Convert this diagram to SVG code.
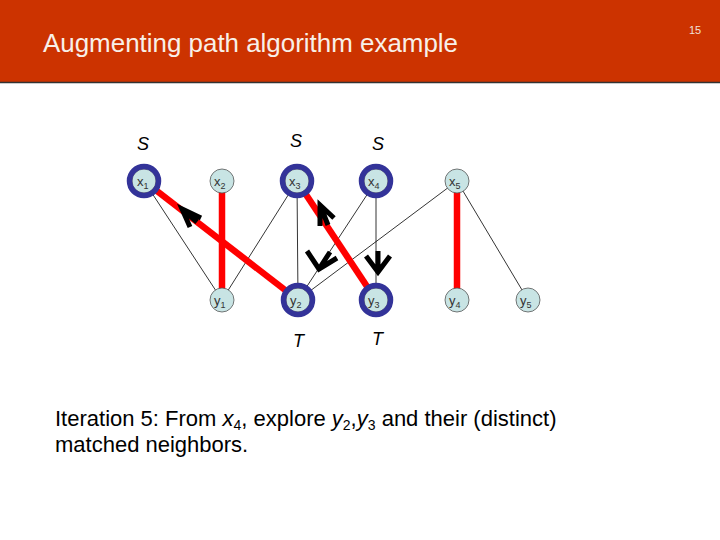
<svg xmlns="http://www.w3.org/2000/svg" width="720" height="540" viewBox="0 0 720 540">
<style>
.n{fill:#c8e4e4;stroke:#555;stroke-width:0.8}
.ring{fill:none;stroke:#333399;stroke-width:5.5}
.lb{font-family:"Liberation Sans",Arial,sans-serif;font-size:13px;fill:#333}
.sb{font-size:9px}
.thin{stroke:#000;stroke-width:0.8;fill:none}
.red{stroke:#ff0000;stroke-width:6.5;fill:none}
.arr{stroke:#000;stroke-width:5;fill:none;stroke-linecap:butt;stroke-linejoin:miter}
.st{font-family:"Liberation Sans",Arial,sans-serif;font-size:18px;font-style:italic;fill:#000}
.tx{font-family:"Liberation Sans",Arial,sans-serif;font-size:22px;fill:#000}
</style>
<rect width="720" height="540" fill="#fff"/>
<rect x="0" y="0" width="720" height="82" fill="#cc3300"/>
<line x1="0" y1="82.5" x2="720" y2="82.5" stroke="#333" stroke-width="1.5"/>
<text x="43" y="52" font-family="Liberation Sans,Arial,sans-serif" font-size="26" fill="#f8f0e8" textLength="415" lengthAdjust="spacingAndGlyphs">Augmenting path algorithm example</text>
<text x="689" y="34" font-family="Liberation Sans,Arial,sans-serif" font-size="11" fill="#f0e0d8">15</text>
<g id="connectors">
<line class="thin" x1="144" y1="181" x2="222" y2="300"/>
<line class="thin" x1="297" y1="181" x2="222" y2="300"/>
<line class="thin" x1="297" y1="181" x2="298" y2="300"/>
<line class="thin" x1="376" y1="181" x2="298" y2="300"/>
<line class="thin" x1="376" y1="181" x2="376" y2="300"/>
<line class="thin" x1="457" y1="181" x2="298" y2="300"/>
<line class="thin" x1="457" y1="181" x2="528" y2="300"/>
<line class="red" x1="222" y1="181" x2="222" y2="300"/>
<line class="red" x1="144" y1="181" x2="298" y2="300"/>
<line class="red" x1="297" y1="181" x2="376" y2="300"/>
<line class="red" x1="457" y1="181" x2="457" y2="300"/>
<path class="arr" d="M201,218 L182,209 L190,227 M182,209 L197,222"/>
<path class="arr" d="M334,218 L320,205 L320,226 M320,205 L328,225"/>
<path class="arr" d="M307,251 L319,269 L337,258 M319,269 L330,252"/>
<path class="arr" d="M366,256 L378,272 L390,256 M378,272 L378,251"/>
</g>
<g id="x1"><circle class="n" cx="144" cy="181" r="12"/><circle class="ring" cx="144" cy="181" r="14.5"/><text class="lb" x="137" y="186">x<tspan class="sb" dy="3">1</tspan></text></g>
<g id="x2"><circle class="n" cx="222" cy="181" r="12"/><text class="lb" x="214" y="186">x<tspan class="sb" dy="3">2</tspan></text></g>
<g id="x3"><circle class="n" cx="297" cy="181" r="12"/><circle class="ring" cx="297" cy="181" r="14.5"/><text class="lb" x="289" y="186">x<tspan class="sb" dy="3">3</tspan></text></g>
<g id="x4"><circle class="n" cx="376" cy="181" r="12"/><circle class="ring" cx="376" cy="181" r="14.5"/><text class="lb" x="368" y="186">x<tspan class="sb" dy="3">4</tspan></text></g>
<g id="x5"><circle class="n" cx="457" cy="181" r="12"/><text class="lb" x="449" y="186">x<tspan class="sb" dy="3">5</tspan></text></g>
<g id="y1"><circle class="n" cx="222" cy="300" r="12"/><text class="lb" x="214" y="305">y<tspan class="sb" dy="3">1</tspan></text></g>
<g id="y2"><circle class="n" cx="298" cy="300" r="12"/><circle class="ring" cx="298" cy="300" r="14.5"/><text class="lb" x="290" y="305">y<tspan class="sb" dy="3">2</tspan></text></g>
<g id="y3"><circle class="n" cx="376" cy="300" r="12"/><circle class="ring" cx="376" cy="300" r="14.5"/><text class="lb" x="368" y="305">y<tspan class="sb" dy="3">3</tspan></text></g>
<g id="y4"><circle class="n" cx="457" cy="300" r="12"/><text class="lb" x="449" y="305">y<tspan class="sb" dy="3">4</tspan></text></g>
<g id="y5"><circle class="n" cx="528" cy="300" r="12"/><text class="lb" x="520" y="305">y<tspan class="sb" dy="3">5</tspan></text></g>
<text class="st" x="137" y="150">S</text>
<text class="st" x="290" y="147">S</text>
<text class="st" x="372" y="150">S</text>
<text class="st" x="293" y="347">T</text>
<text class="st" x="372" y="345">T</text>
<text class="tx" x="55" y="426">Iteration 5: From <tspan font-style="italic">x</tspan><tspan font-size="14" dy="4">4</tspan><tspan dy="-4">, explore </tspan><tspan font-style="italic">y</tspan><tspan font-size="14" dy="4">2</tspan><tspan dy="-4">,</tspan><tspan font-style="italic">y</tspan><tspan font-size="14" dy="4">3</tspan><tspan dy="-4"> and their (distinct)</tspan></text>
<text class="tx" x="55" y="452">matched neighbors.</text>
</svg>
